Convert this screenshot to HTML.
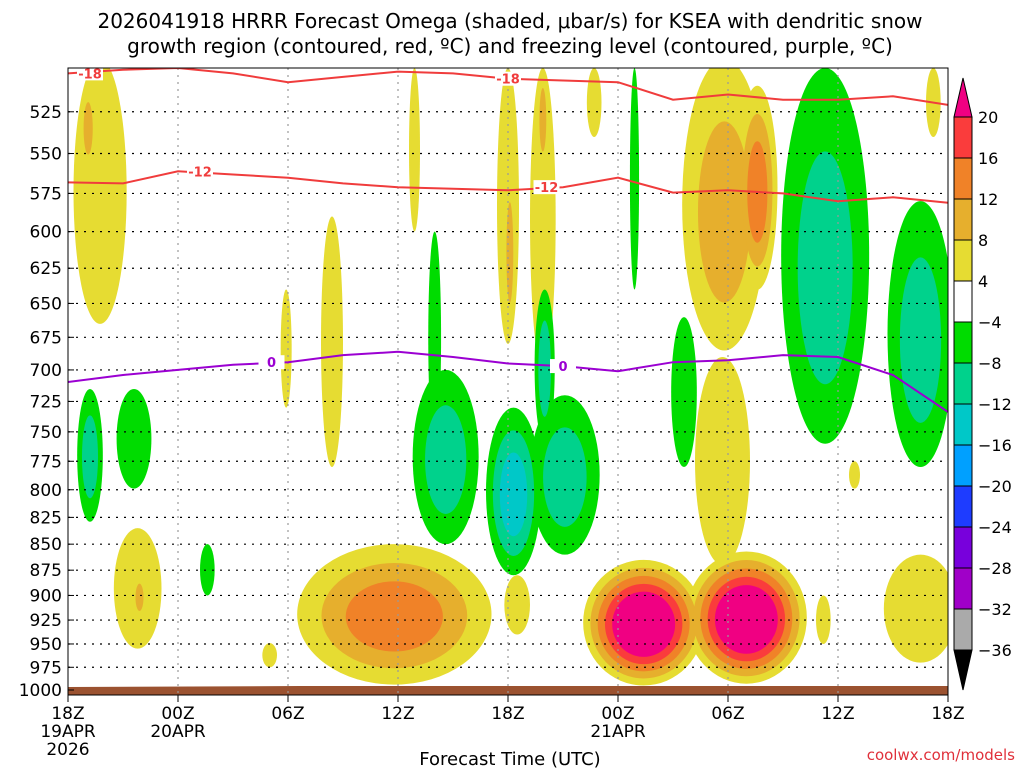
<!DOCTYPE html>
<html><head><meta charset="utf-8"><style>
body{margin:0;background:#fff;}
svg{display:block;font-family:"DejaVu Sans","Liberation Sans",sans-serif;}
</style></head><body>
<svg id="c" width="1024" height="768" viewBox="0 0 1024 768">
<text x="510" y="28" font-size="20" text-anchor="middle">2026041918 HRRR Forecast Omega (shaded, μbar/s) for KSEA with dendritic snow</text>
<text x="510" y="53" font-size="20" text-anchor="middle">growth region (contoured, red, ºC) and freezing level (contoured, purple, ºC)</text>
<defs><clipPath id="pc"><rect x="68" y="68" width="880" height="627"/></clipPath></defs>
<g id="field" clip-path="url(#pc)"></g>
<g id="grid"></g>
<g id="cont" clip-path="url(#pc)"></g>
<rect x="68" y="68" width="880" height="627" fill="none" stroke="#000" stroke-width="1"/>
<g id="axes"></g>
<g id="cbar"></g>
<text x="510" y="765" font-size="18" text-anchor="middle">Forecast Time (UTC)</text>
<text x="1015" y="760" font-size="15" fill="#e0303a" text-anchor="end">coolwx.com/models</text>
</svg>
<script>
// ---- data ----
const pLevels=[525,550,575,600,625,650,675,700,725,750,775,800,825,850,875,900,925,950,975,1000];
const xTickHours=[0,6,12,18,24,30,36,42,48];
const xTickLabels=["18Z","00Z","06Z","12Z","18Z","00Z","06Z","12Z","18Z"];
const cbLevels=[20,16,12,8,4,-4,-8,-12,-16,-20,-24,-28,-32,-36];
const cbColors=["#fa3c3c","#f08228","#e6af2d","#e6dc32","#ffffff","#00dc00","#00d28c","#00c8c8","#00a0ff","#1e3cff","#7800dc","#a000c8","#aaaaaa"];
const contHours=[0,3,6,9,12,15,18,21,24,27,30,33,36,39,42,45,48];
const dgzTop=[503,501,500,503,508,505,502,503,506,507,508,518,515,518,518,516,521];
const dgzBot=[568,568.6,561,563,565,568.6,571,572,573,571,565,574.5,573,575,580,577.5,581];
const frzLevel=[709.5,704,700,696,694,688.5,686,690,695,697,701,694,692.5,688.5,690,704,733.5];
// blobs: center hour, center hPa, half-width hours, half-height hPa, peak value
const blobHour=[1.75,1.1,3.8,3.9,17.8,11.9,14.4,11,18.9,24,24.1,24.5,25.9,25.9,28.7,31.4,37,35.7,35.8,37.6,41.2,42.9,46.5,47.2,
 1.2,3.6,7.6,20,20.6,24.3,27.1,26,30.9,33.6,41.3,46.5];
const blobPres=[580,535,895,902,922,685,685,962,550,590,615,910,600,530,520,930,925,780,590,575,925,787,915,520,
 772,757,875,680,775,805,790,700,570,720,630,680];
const blobHW=[1.45,0.4,1.3,0.35,5.3,0.3,0.6,0.4,0.3,0.6,0.3,0.7,0.7,0.3,0.4,3.3,3.3,1.5,2.3,1.1,0.4,0.3,2,0.4,
 0.7,0.95,0.4,0.35,1.8,1.5,1.9,0.55,0.25,0.7,2.4,1.8];
const blobHH=[85,25,60,22,72,45,95,13,50,90,55,30,100,30,20,65,68,90,95,65,25,12,55,20,
 57,42,25,80,75,75,70,60,70,60,130,100];
const blobPeak=[6,10,6,10,14,6,6,6,6,6,10,6,6,10,6,22,22,6,10,14,6,6,6,6,
 -10,-6,-6,-6,-10,-14,-10,-10,-6,-6,-10,-10];
// ---- axes functions ----
const X0=68,X1=948,Y0=68,Y1=690;
const xs=h=>X0+(X1-X0)*h/48;
const ys=p=>Y0+(Y1-Y0)*Math.log(p/500)/Math.log(2);
const NS="http://www.w3.org/2000/svg";
function mk(tag,attrs,parent){const e=document.createElementNS(NS,tag);for(const k in attrs)e.setAttribute(k,attrs[k]);parent.appendChild(e);return e;}
const posCol={4:"#e6dc32",8:"#e6af2d",12:"#f08228",16:"#fa3c3c",20:"#f00082"};
const negCol={4:"#00dc00",8:"#00d28c",12:"#00c8c8",16:"#00a0ff"};
const field=document.getElementById('field');
const terr=mk('path',{d:`M68 695 L68 687 L300 686 L600 686 L948 686 L948 695 Z`,fill:"#9b5230"},field);


for(let lev=4;lev<=20;lev+=4){
 for(let i=0;i<blobHour.length;i++){
  const pk=blobPeak[i],a=Math.abs(pk);
  if(a<lev)continue;
  const n=Math.floor(a/4);const k=lev/4;
  const f=1-(k-1)/n*(n>=5?0.6:0.75);
  const cx=xs(blobHour[i]);
  const yt=ys(Math.max(490,blobPres[i]-blobHH[i]*f)),yb=ys(blobPres[i]+blobHH[i]*f);
  const e=mk('ellipse',{cx:cx,cy:(yt+yb)/2,rx:(X1-X0)/48*blobHW[i]*f,ry:(yb-yt)/2,fill:pk>0?posCol[lev]:negCol[lev]},field);
  
  
 }
}
const grid=document.getElementById('grid'),axes=document.getElementById('axes');
pLevels.forEach(p=>{
 const y=ys(p);
 if(p<1000){const l=mk('line',{x1:X0,x2:X1,y1:y,y2:y,stroke:"#000","stroke-dasharray":"2 6","stroke-width":1.2},grid);
 
 }
 const t=mk('text',{x:62,y:y+6,"font-size":17,"text-anchor":"end"},axes);t.textContent=p;
 
 
 const tk=mk('line',{x1:X0,x2:X0+6,y1:y,y2:y,stroke:"#000"},axes);
 
 
});
xTickHours.forEach((h,i)=>{
 const x=xs(h);
 if(i>0&&i<8){const l=mk('line',{x1:x,x2:x,y1:Y0,y2:695,stroke:"#999","stroke-dasharray":"2 5","stroke-width":1.2},grid);
 
 }
 const tk=mk('line',{x1:x,x2:x,y1:695,y2:702,stroke:"#000"},axes);
 
 
 const t=mk('text',{x:x,y:719,"font-size":17,"text-anchor":"middle"},axes);t.textContent=xTickLabels[i];
 
 
});
[["19APR",0,737],["2026",0,755],["20APR",6,737],["21APR",30,737]].forEach(d=>{
 const t=mk('text',{x:xs(d[1]),y:d[2],"font-size":17,"text-anchor":"middle"},axes);t.textContent=d[0];
 
 
});
const cont=document.getElementById('cont');
function line(arr,col,name){
 const d=arr.map((p,i)=>(i?'L':'M')+xs(contHours[i]).toFixed(1)+' '+ys(p).toFixed(1)).join(' ');
 const e=mk('path',{d:d,fill:"none",stroke:col,"stroke-width":2},cont);
 
 
}
line(dgzTop,"#f03c3c","dgz-top-contour");
line(dgzBot,"#f03c3c","dgz-bottom-contour");
line(frzLevel,"#9b00d2","freezing-level-contour");
function lab(txt,h,arr,col){
 const i=Math.round(h/3);const x=xs(h),y=ys(arr[i]);
 const r=mk('rect',{x:x-13,y:y-7,width:26,height:14,fill:"#fff"},cont);
 
 
 const t=mk('text',{x:x,y:y+5,"font-size":13,"font-weight":"bold",fill:col,"text-anchor":"middle"},cont);t.textContent=txt;
 
 
}
lab("-18",1.2,dgzTop,"#f03c3c");lab("-18",24,dgzTop,"#f03c3c");
lab("-12",7.2,dgzBot,"#f03c3c");lab("-12",26.1,dgzBot,"#f03c3c");
lab("0",11.1,frzLevel,"#9b00d2");lab("0",27,frzLevel,"#9b00d2");
const cb=document.getElementById('cbar');
const cbx=954,cbw=18,cby=(i)=>117+i*41;
const tri=mk('path',{d:`M${cbx} ${cby(0)} L${cbx+cbw/2} 78 L${cbx+cbw} ${cby(0)} Z`,fill:"#f00082",stroke:"#000"},cb);


cbColors.forEach((c,i)=>{
 const r=mk('rect',{x:cbx,y:cby(i),width:cbw,height:41,fill:c,stroke:"#000"},cb);
 
 
});
const tri2=mk('path',{d:`M${cbx} ${cby(13)} L${cbx+cbw/2} 690 L${cbx+cbw} ${cby(13)} Z`,fill:"#000",stroke:"#000"},cb);


cbLevels.forEach((v,i)=>{
 const t=mk('text',{x:978,y:cby(i)+6,"font-size":16},cb);t.textContent=v<0?"\u2212"+(-v):v;
 
 
});
</script>
</body></html>
